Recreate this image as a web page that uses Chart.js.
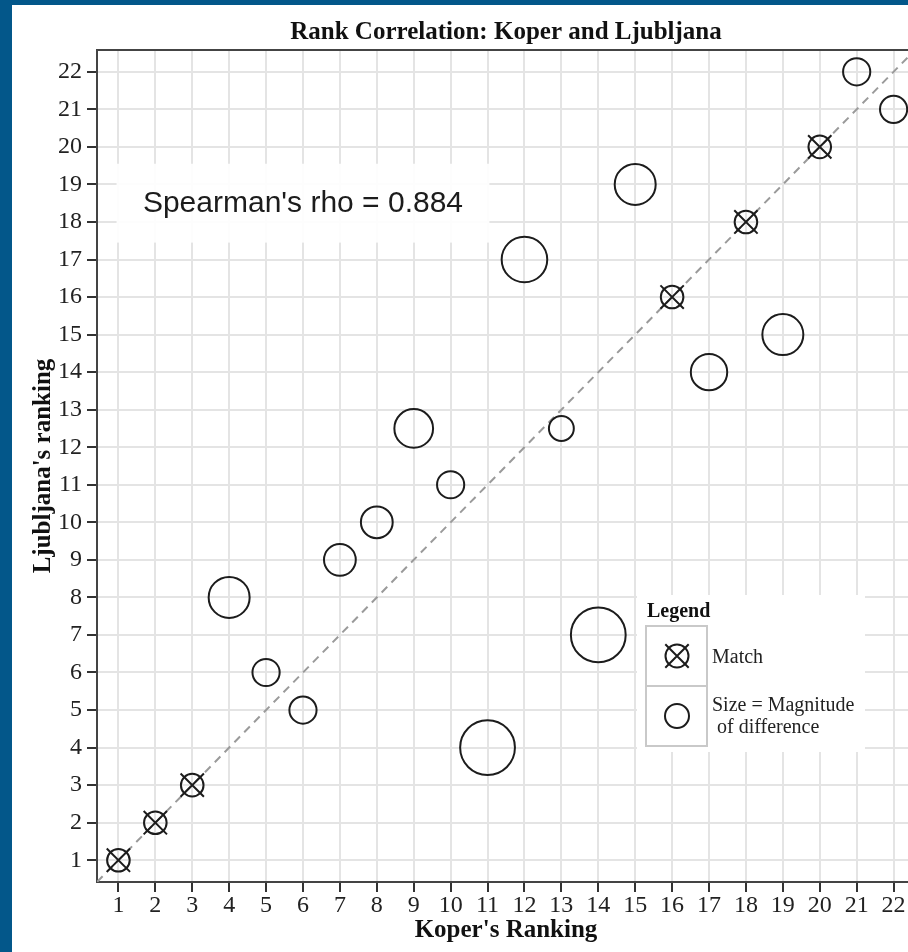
<!DOCTYPE html>
<html>
<head>
<meta charset="utf-8">
<title>Rank Correlation: Koper and Ljubljana</title>
<script src="https://cdn.jsdelivr.net/npm/chart.js@4.4.1/dist/chart.umd.min.js"></script>
<style>
  html, body { margin: 0; padding: 0; width: 908px; height: 952px; overflow: hidden; background: #03578a; }
  .sheet { position: absolute; left: 12px; top: 5px; width: 940px; height: 980px; background: #fff; }
  .wrap  { position: absolute; left: 0; top: 0; }
</style>
</head>
<body>
<div class="sheet"></div>
<div class="wrap"><canvas id="rankChart" width="915" height="952"></canvas></div>
<script>
const koperRank     = [1, 2, 3, 4, 5, 6, 7, 8, 9, 10, 11, 12, 13, 14, 15, 16, 17, 18, 19, 20, 21, 22];
const ljubljanaRank = [1, 2, 3, 8, 6, 5, 9, 10, 12.5, 11, 4, 17, 12.5, 7, 19, 16, 14, 18, 15, 20, 22, 21];
const xTicks = [1, 2, 3, 4, 5, 6, 7, 8, 9, 10, 11, 12, 13, 14, 15, 16, 17, 18, 19, 20, 21, 22];
const yTicks = [1, 2, 3, 4, 5, 6, 7, 8, 9, 10, 11, 12, 13, 14, 15, 16, 17, 18, 19, 20, 21, 22];
const rhoText = "Spearman's rho = 0.884";

const AX_MIN = 0.42, AX_MAX = 22.58;
const SERIF = "'Liberation Serif', 'Times New Roman', serif";
const INK = '#1c1c1c';

const pairs   = koperRank.map((k, i) => ({ x: k, y: ljubljanaRank[i] }));
const matches = pairs.filter(p => p.x === p.y);
const misses  = pairs.filter(p => p.x !== p.y);

// circle radius grows with |rank difference|
const sizeFor = ctx => ctx.raw ? 11.3 + 2.3 * Math.abs(ctx.raw.x - ctx.raw.y) : 11.3;

const useTicks = vals => scale => { scale.ticks = vals.map(v => ({ value: v })); };

/* y = x reference line, Spearman box, legend */
const extras = {
  id: 'extras',
  beforeDatasetsDraw(chart) {
    const { ctx, chartArea: a, scales: { x, y } } = chart;
    ctx.save();
    ctx.beginPath();
    ctx.rect(a.left, a.top, a.right - a.left, a.bottom - a.top);
    ctx.clip();
    ctx.strokeStyle = '#9a9a9a';
    ctx.lineWidth = 2;
    ctx.setLineDash([8, 6]);
    ctx.beginPath();
    ctx.moveTo(x.getPixelForValue(AX_MIN), y.getPixelForValue(AX_MIN));
    ctx.lineTo(x.getPixelForValue(AX_MAX), y.getPixelForValue(AX_MAX));
    ctx.stroke();
    ctx.setLineDash([]);

    const bx0 = x.getPixelForValue(0.95), bx1 = x.getPixelForValue(11.05);
    const by0 = y.getPixelForValue(19.55), by1 = y.getPixelForValue(17.45);
    ctx.fillStyle = 'rgba(255,255,255,0.93)';
    ctx.fillRect(bx0, by0, bx1 - bx0, by1 - by0);
    ctx.fillStyle = INK;
    ctx.font = "30px 'Liberation Sans', Arial, sans-serif";
    ctx.textAlign = 'center';
    ctx.textBaseline = 'middle';
    ctx.fillText(rhoText, (bx0 + bx1) / 2, (by0 + by1) / 2 + 1);
    ctx.restore();
  },
  afterDraw(chart) {
    const { ctx, chartArea: a } = chart;
    const L = a.left, T = a.top;
    ctx.save();
    ctx.fillStyle = '#fff';
    ctx.fillRect(L + 540, T + 545, 228, 157);

    ctx.fillStyle = '#111';
    ctx.textAlign = 'left';
    ctx.textBaseline = 'alphabetic';
    ctx.font = 'bold 20px ' + SERIF;
    ctx.fillText('Legend', L + 550, T + 567);

    ctx.strokeStyle = '#c9c9c9';
    ctx.lineWidth = 2;
    ctx.strokeRect(L + 549, T + 576, 61, 120);
    ctx.beginPath();
    ctx.moveTo(L + 549, T + 636);
    ctx.lineTo(L + 610, T + 636);
    ctx.stroke();

    const cx = L + 580;
    ctx.strokeStyle = INK;
    ctx.lineWidth = 2;
    ctx.beginPath();
    ctx.arc(cx, T + 606, 11.5, 0, Math.PI * 2);
    ctx.stroke();
    ctx.beginPath();
    ctx.moveTo(cx - 11.7, T + 606 - 11.7); ctx.lineTo(cx + 11.7, T + 606 + 11.7);
    ctx.moveTo(cx + 11.7, T + 606 - 11.7); ctx.lineTo(cx - 11.7, T + 606 + 11.7);
    ctx.stroke();
    ctx.beginPath();
    ctx.arc(cx, T + 666, 12, 0, Math.PI * 2);
    ctx.stroke();

    ctx.fillStyle = '#222';
    ctx.font = '20px ' + SERIF;
    ctx.fillText('Match', L + 615, T + 613);
    ctx.fillText('Size = Magnitude', L + 615, T + 661);
    ctx.fillText(' of difference', L + 615, T + 683);
    ctx.restore();
  }
};

const axisGrid = { color: '#e4e4e4', lineWidth: 2, tickColor: '#333', tickWidth: 2, tickLength: 10 };
const axisBorder = { color: '#444', width: 2 };
const tickFont = { family: SERIF, size: 24, lineHeight: 1 };
const titleFont = { family: SERIF, size: 25, weight: 'bold' };

new Chart(document.getElementById('rankChart'), {
  type: 'scatter',
  data: {
    datasets: [
      {
        label: 'Size = Magnitude of difference',
        data: misses,
        pointStyle: 'circle',
        pointRadius: sizeFor,
        pointHoverRadius: sizeFor,
        borderColor: INK,
        backgroundColor: 'rgba(0,0,0,0)',
        borderWidth: 2,
        clip: false
      },
      {
        label: 'Match',
        data: matches,
        pointStyle: 'circle',
        pointRadius: 11.3,
        borderColor: INK,
        backgroundColor: 'rgba(0,0,0,0)',
        borderWidth: 2,
        clip: false
      },
      {
        label: 'Match (cross)',
        data: matches,
        pointStyle: 'crossRot',
        pointRadius: 16.5,
        borderColor: INK,
        borderWidth: 2,
        clip: false
      }
    ]
  },
  options: {
    responsive: false,
    animation: false,
    events: [],
    layout: { padding: 0, autoPadding: false },
    plugins: {
      legend: { display: false },
      title: { display: false },
      tooltip: { enabled: false }
    },
    scales: {
      x: {
        type: 'linear',
        position: 'bottom',
        min: AX_MIN,
        max: AX_MAX,
        afterBuildTicks: useTicks(xTicks),
        afterFit: s => { s.height = 70; },
        grid: axisGrid,
        border: axisBorder,
        ticks: { font: tickFont, color: '#222', padding: 2, maxRotation: 0, autoSkip: false },
        title: { display: true, text: "Koper's Ranking", font: titleFont, color: '#111', padding: { top: 0, bottom: 6 } }
      },
      x2: {
        type: 'linear',
        position: 'top',
        min: AX_MIN,
        max: AX_MAX,
        afterFit: s => { s.height = 50; },
        grid: { display: false },
        border: axisBorder,
        ticks: { display: false },
        title: { display: true, text: 'Rank Correlation: Koper and Ljubljana', font: titleFont, color: '#111', padding: { top: 18, bottom: 0 } }
      },
      y: {
        type: 'linear',
        position: 'left',
        min: AX_MIN,
        max: AX_MAX,
        afterBuildTicks: useTicks(yTicks),
        afterFit: s => { s.width = 97; },
        grid: axisGrid,
        border: axisBorder,
        ticks: { font: tickFont, color: '#222', padding: 5, autoSkip: false },
        title: { display: true, text: "Ljubljana's ranking", font: titleFont, color: '#111', padding: { top: 29, bottom: 0 } }
      }
    }
  },
  plugins: [extras]
});
</script>
</body>
</html>
